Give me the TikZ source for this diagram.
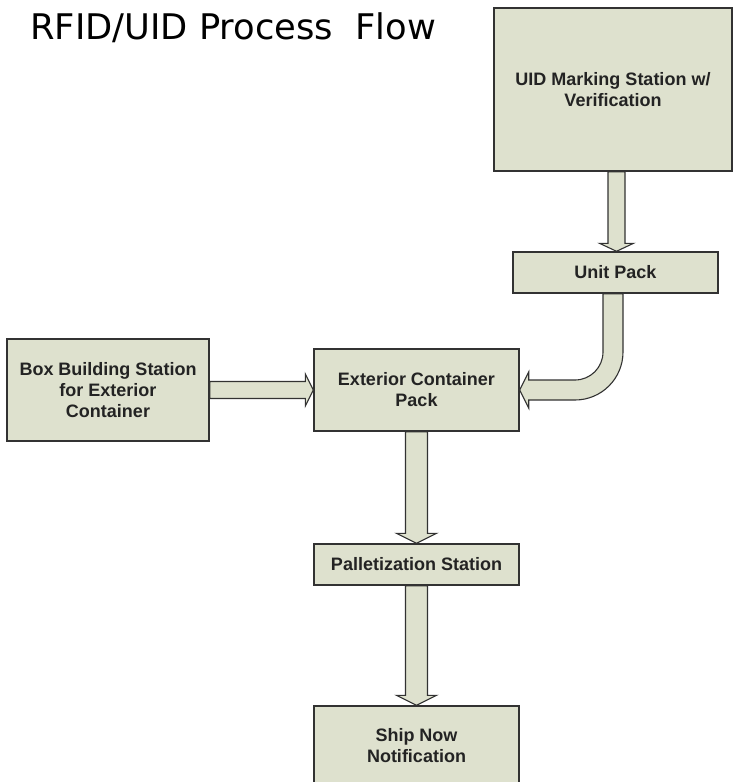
\documentclass[tikz,border=0pt]{standalone}
\usepackage{fontspec}
\setmainfont{Liberation Sans}
\newfontfamily\titlefont{DejaVu Sans}
\usetikzlibrary{calc}
\definecolor{boxfill}{RGB}{222,225,206}
\definecolor{boxline}{RGB}{50,50,50}
\definecolor{labeltext}{RGB}{35,35,35}
\newcommand\vblockarrow[5]{%
  \draw[blockarrow] let \p1=(#1), \p2=(#2) in
    (\x2-#3pt,\y1) -- (\x2-#3pt,\y2+#5pt) -- (\x2-#4pt,\y2+#5pt) -- (\x2,\y2)
    -- (\x2+#4pt,\y2+#5pt) -- (\x2+#3pt,\y2+#5pt) -- (\x2+#3pt,\y1) -- cycle;}
\newcommand\hblockarrow[5]{%
  \draw[blockarrow] let \p1=(#1), \p2=(#2) in
    (\x1,\y1+#3pt) -- (\x2-#5pt,\y1+#3pt) -- (\x2-#5pt,\y1+#4pt) -- (\x2,\y1)
    -- (\x2-#5pt,\y1-#4pt) -- (\x2-#5pt,\y1-#3pt) -- (\x1,\y1-#3pt) -- cycle;}
\begin{document}
\begin{tikzpicture}[x=1pt,y=1pt,
  stationbox/.style={draw=boxline, fill=boxfill, line width=1.4pt, inner sep=0pt,
    align=center, font=\fontsize{18}{21}\selectfont\bfseries, text=labeltext},
  blockarrow/.style={draw=boxline, fill=boxfill, line width=1.1pt, line join=miter}]
\useasboundingbox (0,0) rectangle (733,-782);
\clip (0,0) rectangle (733,-782);
\node[anchor=base west, inner sep=0pt, font=\titlefont\fontsize{35.3}{40}\selectfont] (title)
  at (30,-39) {RFID/UID Process\ \ Flow};
\node[stationbox, minimum width=238pt, minimum height=163pt] (uid) at (613,-89.5)
  {UID Marking Station w/\\Verification};
\node[stationbox, minimum width=205pt, minimum height=41pt] (unit) at (615.5,-272.5)
  {Unit Pack};
\node[stationbox, minimum width=202pt, minimum height=102pt] (bbs) at (108,-390)
  {Box Building Station\\for Exterior\\Container};
\node[stationbox, minimum width=205pt, minimum height=82pt] (ext) at (416.5,-390)
  {Exterior Container\\Pack};
\node[stationbox, minimum width=205pt, minimum height=41pt] (pal) at (416.5,-564.5)
  {Palletization Station};
\node[stationbox, minimum width=205pt, minimum height=80pt] (ship) at (416.5,-746)
  {Ship Now\\Notification};
% straight block arrows
\vblockarrow{uid.south}{$(unit.north)+(1,0)$}{8.5}{17}{8}
\hblockarrow{bbs.east}{ext.west}{8.5}{16}{8}
\vblockarrow{ext.south}{pal.north}{11}{20}{10}
\vblockarrow{pal.south}{ship.north}{11}{20}{10}
% curved block arrow from Unit Pack to Exterior Container Pack
\draw[blockarrow] let \p1=(unit.south), \p2=(ext.east) in
  (\x1-12.5pt,\y1) -- (\x1-12.5pt,\y2+38pt)
  arc[start angle=0, end angle=-90, radius=28pt]
  -- (\x2+9pt,\y2+10pt) -- (\x2+9pt,\y2+18pt) -- (\x2,\y2)
  -- (\x2+9pt,\y2-18pt) -- (\x2+9pt,\y2-10pt) -- (\x1-40.5pt,\y2-10pt)
  arc[start angle=-90, end angle=0, radius=48pt]
  -- (\x1+7.5pt,\y1) -- cycle;
\end{tikzpicture}
\end{document}
